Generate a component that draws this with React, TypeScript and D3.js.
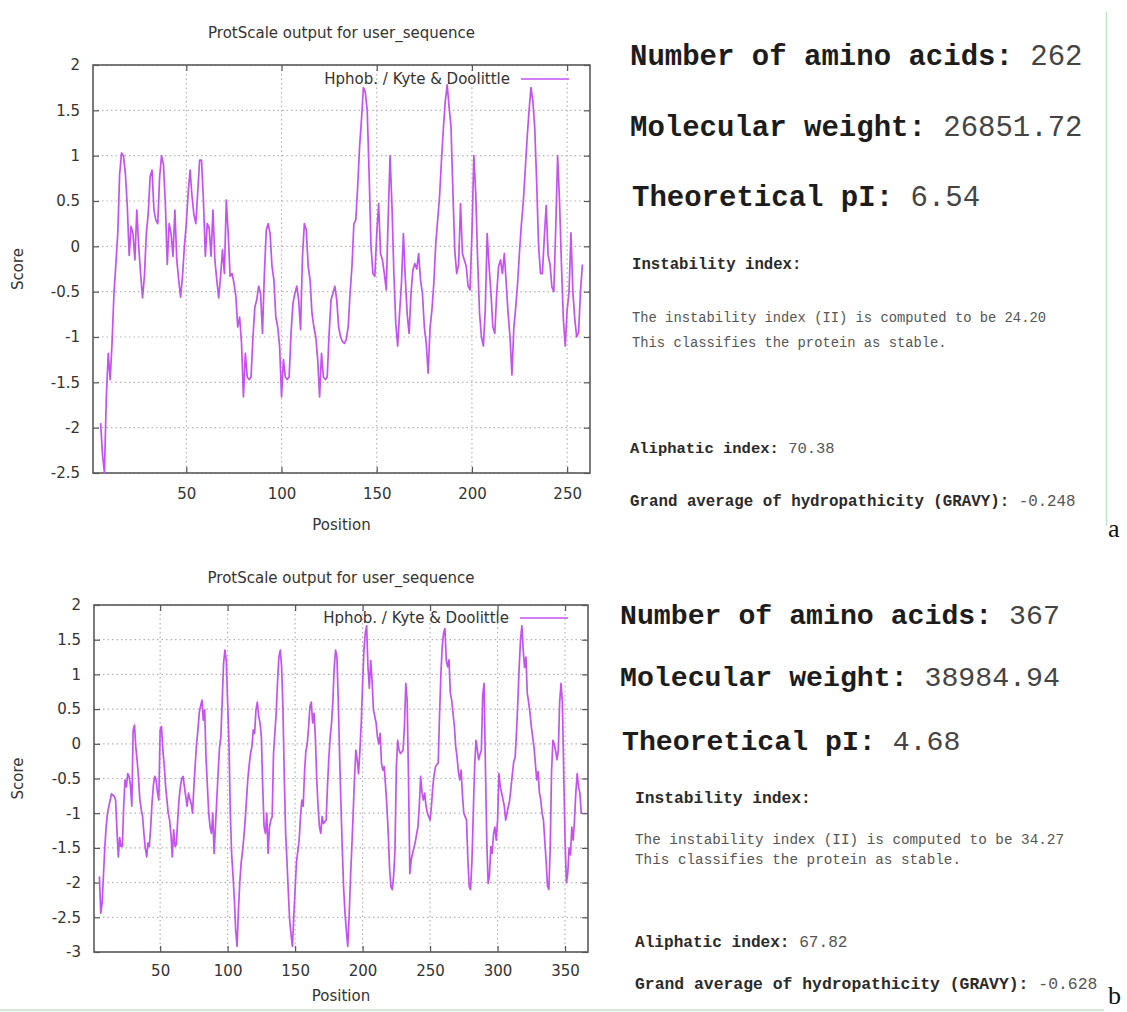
import * as d3 from "d3";
import { useEffect, useRef } from "react";

// Kyte & Doolittle hydropathy profiles (window 9, first point at residue 5)
const firstPosA = 5;
const lengthA = 262;
const scoresA = [
  -1.95, -2.3, -2.5, -1.66, -1.18, -1.47, -1.07, -0.52, -0.2, 0.14,
  0.8, 1.03, 1.0, 0.8, 0.45, -0.1, 0.22, 0.14, -0.15, 0.4,
  0.0, -0.3, -0.57, -0.33, 0.14, 0.36, 0.77, 0.84, 0.4, 0.29,
  0.25, 0.77, 1.0, 0.9, 0.47, -0.2, 0.25, 0.14, -0.11, 0.4,
  -0.15, -0.37, -0.56, -0.33, 0.0, 0.25, 0.6, 0.84, 0.55, 0.35,
  0.25, 0.6, 0.95, 0.95, 0.5, -0.11, 0.25, 0.2, -0.11, 0.4,
  -0.15, -0.37, -0.57, -0.33, -0.04, -0.3, 0.51, 0.14, -0.33, -0.3,
  -0.4, -0.55, -0.89, -0.78, -1.07, -1.66, -1.18, -1.44, -1.47, -1.44,
  -1.0, -0.67, -0.59, -0.44, -0.52, -0.96, -0.3, 0.18, 0.25, 0.14,
  -0.22, -0.37, -0.78, -0.89, -1.1, -1.66, -1.25, -1.44, -1.47, -1.44,
  -0.96, -0.63, -0.52, -0.44, -0.59, -0.92, -0.11, 0.25, 0.18, -0.22,
  -0.37, -0.74, -0.89, -1.0, -1.25, -1.66, -1.18, -1.44, -1.47, -1.44,
  -0.96, -0.59, -0.52, -0.44, -0.59, -0.89, -1.0, -1.05, -1.07, -1.03,
  -0.89, -0.52, -0.22, 0.25, 0.29, 0.66, 1.1, 1.4, 1.75, 1.7,
  1.5, 0.8, 0.0, -0.3, -0.33, 0.14, 0.47, -0.08, -0.15, -0.3,
  -0.48, 0.3, 1.0, 0.45, -0.3, -0.85, -1.1, -0.74, -0.4, 0.14,
  -0.35, -0.75, -0.96, -0.52, -0.26, -0.19, -0.25, -0.08, -0.37, -0.52,
  -0.89, -1.07, -1.4, -0.9, -0.7, -0.4, 0.03, 0.29, 0.55, 0.95,
  1.3, 1.6, 1.78, 1.54, 1.32, 0.6, -0.05, -0.3, -0.2, 0.47,
  -0.08, -0.15, -0.22, -0.44, -0.48, 0.14, 1.0, 0.58, -0.15, -0.74,
  -1.0, -1.1, -0.7, 0.14, -0.22, -0.52, -0.89, -0.96, -0.52, -0.22,
  -0.15, -0.3, -0.08, -0.41, -0.74, -1.0, -1.42, -0.9, -0.67, -0.4,
  -0.05, 0.25, 0.5, 0.85, 1.2, 1.5, 1.75, 1.6, 1.3, 0.7,
  0.0, -0.3, -0.3, 0.1, 0.45, -0.1, -0.2, -0.45, -0.5, 0.2,
  1.0, 0.5, -0.2, -0.8, -1.1, -0.7, -0.5, 0.15, -0.5, -0.8,
  -1.0, -0.95, -0.5, -0.2,
];

const firstPosB = 5;
const lengthB = 367;
const scoresB = [
  -1.91, -2.44, -2.3, -1.9, -1.5, -1.2, -1.0, -0.9, -0.81, -0.72,
  -0.74, -0.76, -0.81, -1.24, -1.63, -1.35, -1.48, -1.48, -0.9, -0.52,
  -0.62, -0.43, -0.47, -0.6, -0.9, 0.2, 0.27, -0.05, -0.25, -0.5,
  -0.81, -0.95, -1.05, -1.3, -1.5, -1.63, -1.43, -1.48, -1.2, -0.85,
  -0.6, -0.47, -0.52, -0.7, -0.81, 0.2, 0.25, -0.09, -0.3, -0.6,
  -0.8, -1.0, -1.1, -1.3, -1.63, -1.24, -1.48, -1.45, -1.1, -0.8,
  -0.62, -0.5, -0.47, -0.62, -0.76, -0.9, -0.71, -0.8, -0.86, -1.0,
  -0.62, -0.3, 0.0, 0.2, 0.45, 0.55, 0.63, 0.34, 0.49, -0.2,
  -0.6, -1.0, -1.2, -1.29, -1.0, -1.58, -1.19, -0.8, -0.4, -0.05,
  0.1, 0.63, 1.16, 1.35, 1.2, 0.6, 0.0, -1.0, -1.6, -1.9,
  -2.25, -2.7, -2.92, -2.4, -2.0, -1.72, -1.55, -1.35, -1.1, -0.8,
  -0.5, -0.3, -0.14, -0.04, 0.2, 0.15, 0.49, 0.6, 0.4, 0.3,
  0.1, -0.62, -1.19, -1.29, -1.0, -1.58, -1.2, -1.1, -1.05, -0.14,
  0.15, 0.45, 0.9, 1.25, 1.35, 1.11, 0.5, -0.5, -1.3, -1.7,
  -2.15, -2.55, -2.75, -2.92, -2.5, -2.1, -1.7, -1.55, -1.39, -1.05,
  -0.81, -0.9, -0.4, -0.1, 0.0, 0.25, 0.54, 0.6, 0.3, 0.44,
  0.1, -0.5, -0.9, -1.19, -1.29, -1.05, -1.15, -1.12, -1.1, -0.6,
  -0.2, 0.1, 0.3, 0.63, 1.11, 1.35, 1.25, 0.6, -0.2, -0.9,
  -1.55, -2.1, -2.45, -2.7, -2.92, -2.5, -1.95, -1.5, -1.0, -0.5,
  -0.09, -0.23, -0.43, -0.1, 0.3, 0.87, 1.35, 1.6, 1.7, 1.1,
  0.8, 1.2, 0.92, 0.49, 0.4, 0.3, 0.1, 0.0, 0.15, -0.28,
  -0.38, -0.33, -0.6, -0.9, -1.29, -1.8, -2.06, -2.1, -1.9, -1.53,
  -0.33, 0.05, -0.09, -0.14, -0.12, -0.09, 0.25, 0.87, 0.63, -0.5,
  -1.87, -1.67, -1.58, -1.5, -1.42, -1.3, -1.2, -0.9, -0.47, -0.7,
  -0.81, -0.71, -0.9, -1.0, -1.05, -1.1, -0.9, -0.62, -0.45, -0.33,
  -0.3, -0.28, 0.4, 1.0, 1.4, 1.6, 1.66, 1.2, 1.11, 1.21,
  0.73, 0.63, 0.44, 0.25, -0.04, -0.2, -0.4, -0.52, -0.38, -0.75,
  -1.0, -1.05, -1.1, -1.67, -2.06, -2.1, -1.7, -1.0, -0.33, 0.05,
  -0.09, -0.23, -0.15, -0.09, 0.7, 0.87, -0.33, -1.39, -2.01, -1.9,
  -1.48, -1.58, -1.3, -1.2, -1.39, -1.1, -0.43, -0.62, -0.71, -0.8,
  -0.9, -1.1, -1.0, -0.9, -0.81, -0.62, -0.43, -0.25, -0.2, 0.15,
  0.6, 1.1, 1.5, 1.7, 1.35, 1.1, 1.25, 0.73, 0.6, 0.45,
  0.25, 0.1, -0.05, -0.28, -0.52, -0.4, -0.7, -0.81, -1.0, -1.1,
  -1.4, -1.7, -2.05, -2.1, -1.5, -0.4, 0.05, 0.0, -0.1, -0.23,
  -0.1, 0.6, 0.87, 0.6, -0.4, -1.4, -2.0, -1.87, -1.5, -1.6,
  -1.2, -1.39, -1.1, -0.7, -0.43, -0.62, -0.71, -1.0, -1.0,
];

const yTicksA = [-2.5, -2, -1.5, -1, -0.5, 0, 0.5, 1, 1.5, 2];
const yTicksB = [-3, -2.5, -2, -1.5, -1, -0.5, 0, 0.5, 1, 1.5, 2];
const xTicksA = [50, 100, 150, 200, 250];
const xTicksB = [50, 100, 150, 200, 250, 300, 350];

const chartTitle = "ProtScale output for user_sequence";
const legendLabel = "Hphob. / Kyte & Doolittle";

// ProtParam text beside each plot
const headlineA = [["Number of amino acids:", "262"], ["Molecular weight:", "26851.72"], ["Theoretical pI:", "6.54"]];
const headlineB = [["Number of amino acids:", "367"], ["Molecular weight:", "38984.94"], ["Theoretical pI:", "4.68"]];
const instabilityA = ["The instability index (II) is computed to be 24.20", "This classifies the protein as stable."];
const instabilityB = ["The instability index (II) is computed to be 34.27", "This classifies the protein as stable."];
const aliphaticA = "70.38";
const aliphaticB = "67.82";
const gravyA = "-0.248";
const gravyB = "-0.628";

const LINE = "#c552f0";
const SANS = "'DejaVu Sans', sans-serif";
const MONO = "'Liberation Mono', 'DejaVu Sans Mono', monospace";

function drawProfile(root, cfg) {
  const { scores, firstPos, length, yTicks, xTicks, left, right, top, bottom } = cfg;

  const x = d3.scaleLinear().domain([1, length]).range([left, right]);
  const y = d3.scaleLinear().domain([yTicks[0], yTicks[yTicks.length - 1]]).range([bottom, top]);
  const g = root.append("g");

  // dotted grid
  g.append("g").selectAll("line").data(yTicks).join("line")
    .attr("x1", left).attr("x2", right)
    .attr("y1", d => y(d)).attr("y2", d => y(d))
    .attr("stroke", "#b4b4b4").attr("stroke-width", 1.2).attr("stroke-dasharray", "1.5,3");
  g.append("g").selectAll("line").data(xTicks).join("line")
    .attr("x1", d => x(d)).attr("x2", d => x(d))
    .attr("y1", top).attr("y2", bottom)
    .attr("stroke", "#b4b4b4").attr("stroke-width", 1.2).attr("stroke-dasharray", "1.5,3");

  const fmt = d => String(d);
  const noLabel = () => "";
  g.append("g").attr("transform", `translate(${left},0)`)
    .call(d3.axisLeft(y).tickValues(yTicks).tickFormat(fmt).tickSize(-6).tickPadding(13));
  g.append("g").attr("transform", `translate(${right},0)`)
    .call(d3.axisRight(y).tickValues(yTicks).tickFormat(noLabel).tickSize(-6));
  g.append("g").attr("transform", `translate(0,${bottom})`)
    .call(d3.axisBottom(x).tickValues(xTicks).tickFormat(fmt).tickSize(-6).tickPadding(cfg.xPad));
  g.append("g").attr("transform", `translate(0,${top})`)
    .call(d3.axisTop(x).tickValues(xTicks).tickFormat(noLabel).tickSize(-6));
  g.selectAll(".domain").remove();
  g.selectAll(".tick line").attr("stroke", "#555").attr("stroke-width", 1.2);
  g.selectAll(".tick text").attr("font-family", SANS).attr("font-size", 15).attr("fill", "#333");

  g.append("rect")
    .attr("x", left).attr("y", top)
    .attr("width", right - left).attr("height", bottom - top)
    .attr("fill", "none").attr("stroke", "#5a5a5a").attr("stroke-width", 1.6);

  const mid = (left + right) / 2;
  g.append("text").attr("x", mid).attr("y", cfg.titleY)
    .attr("text-anchor", "middle").attr("font-family", SANS).attr("font-size", 15).attr("fill", "#333")
    .text(chartTitle);
  g.append("text").attr("x", mid).attr("y", cfg.xLabelY)
    .attr("text-anchor", "middle").attr("font-family", SANS).attr("font-size", 15).attr("fill", "#333")
    .text("Position");
  g.append("text").attr("transform", `translate(23,${(top + bottom) / 2}) rotate(-90)`)
    .attr("text-anchor", "middle").attr("font-family", SANS).attr("font-size", 15).attr("fill", "#333")
    .text("Score");

  // key
  g.append("text").attr("x", cfg.keyX).attr("y", cfg.keyY + 5)
    .attr("text-anchor", "end").attr("font-family", SANS).attr("font-size", 15).attr("fill", "#333")
    .text(legendLabel);
  g.append("line")
    .attr("x1", cfg.keyX + 11).attr("x2", cfg.keyX + 59)
    .attr("y1", cfg.keyY).attr("y2", cfg.keyY)
    .attr("stroke", LINE).attr("stroke-width", 1.7);

  const line = d3.line()
    .x((d, i) => x(firstPos + i))
    .y(d => y(d));
  g.append("path")
    .datum(scores)
    .attr("fill", "none")
    .attr("stroke", LINE)
    .attr("stroke-width", 1.7)
    .attr("stroke-linejoin", "round")
    .attr("d", line);
}

function drawStats(root, cfg) {
  const g = root.append("g").attr("font-family", MONO).style("white-space", "pre");

  const big = g.selectAll("text.big").data(cfg.headline).join("text")
    .attr("class", "big")
    .attr("x", (d, i) => cfg.bigX[i])
    .attr("y", (d, i) => cfg.bigY[i])
    .attr("font-size", cfg.bigSize);
  big.append("tspan").attr("font-weight", "bold").attr("fill", "#1c1c1c").text(d => d[0]);
  big.append("tspan").attr("fill", "#444").text(d => " " + d[1]);

  g.append("text").attr("x", cfg.smallX).attr("y", cfg.instY)
    .attr("font-size", cfg.labelSize).attr("font-weight", "bold").attr("fill", "#2a2a2a")
    .text("Instability index:");
  g.selectAll("text.inst").data(cfg.instability).join("text")
    .attr("class", "inst")
    .attr("x", cfg.smallX)
    .attr("y", (d, i) => cfg.instTextY + i * cfg.instGap)
    .attr("font-size", cfg.noteSize).attr("fill", "#555")
    .text(d => d);

  const rows = [["Aliphatic index:", cfg.aliphatic, cfg.aliY, cfg.aliSize], ["Grand average of hydropathicity (GRAVY):", cfg.gravy, cfg.gravyY, cfg.gravySize]];
  const t = g.selectAll("text.row").data(rows).join("text")
    .attr("class", "row")
    .attr("x", cfg.rowX)
    .attr("y", d => d[2])
    .attr("font-size", d => d[3]);
  t.append("tspan").attr("font-weight", "bold").attr("fill", "#2a2a2a").text(d => d[0]);
  t.append("tspan").attr("fill", "#555").text(d => " " + d[1]);

  root.append("text").attr("x", cfg.tagX).attr("y", cfg.tagY)
    .attr("font-family", "'Liberation Serif', 'Times New Roman', serif").attr("font-size", 26).attr("fill", "#111")
    .text(cfg.tag);
}

export default function App() {
  const svgRef = useRef(null);

  useEffect(() => {
    if (!svgRef.current) return;
    document.body.style.margin = "0";
    const svg = d3.select(svgRef.current);
    svg.selectAll("*").remove();

    svg.append("rect").attr("width", 1127).attr("height", 1012).attr("fill", "#fff");

    drawProfile(svg, {
      scores: scoresA, firstPos: firstPosA, length: lengthA,
      yTicks: yTicksA, xTicks: xTicksA,
      left: 93, right: 590, top: 65, bottom: 473,
      xPad: 15, titleY: 38, xLabelY: 530, keyX: 510, keyY: 79,
    });
    drawProfile(svg, {
      scores: scoresB, firstPos: firstPosB, length: lengthB,
      yTicks: yTicksB, xTicks: xTicksB,
      left: 94, right: 588, top: 605, bottom: 952,
      xPad: 13, titleY: 583, xLabelY: 1001, keyX: 509, keyY: 618,
    });

    drawStats(svg, {
      headline: headlineA, bigX: [630, 630, 632], bigY: [65, 136, 206], bigSize: 29,
      smallX: 632, instY: 269, labelSize: 15.7, instTextY: 322, instGap: 25, noteSize: 13.8,
      instability: instabilityA, rowX: 630, aliphatic: aliphaticA, gravy: gravyA,
      aliY: 453, aliSize: 15.5, gravyY: 506, gravySize: 15.8,
      tag: "a", tagX: 1108, tagY: 537,
    });
    drawStats(svg, {
      headline: headlineB, bigX: [620, 620, 622], bigY: [624, 686, 750], bigSize: 28.2,
      smallX: 635, instY: 803, labelSize: 16.3, instTextY: 844, instGap: 20, noteSize: 14.3,
      instability: instabilityB, rowX: 635, aliphatic: aliphaticB, gravy: gravyB,
      aliY: 947, aliSize: 16.1, gravyY: 989, gravySize: 16.4,
      tag: "b", tagX: 1108, tagY: 1004,
    });

    // light green page rules
    svg.append("line").attr("x1", 1106.5).attr("x2", 1106.5).attr("y1", 12).attr("y2", 526)
      .attr("stroke", "#bfe2c7").attr("stroke-width", 1.5);
    svg.append("line").attr("x1", 0).attr("x2", 1104).attr("y1", 1010).attr("y2", 1010)
      .attr("stroke", "#cfe9d4").attr("stroke-width", 2);
  }, []);

  return <svg ref={svgRef} width={1127} height={1012} style={{ display: "block" }}></svg>;
}
